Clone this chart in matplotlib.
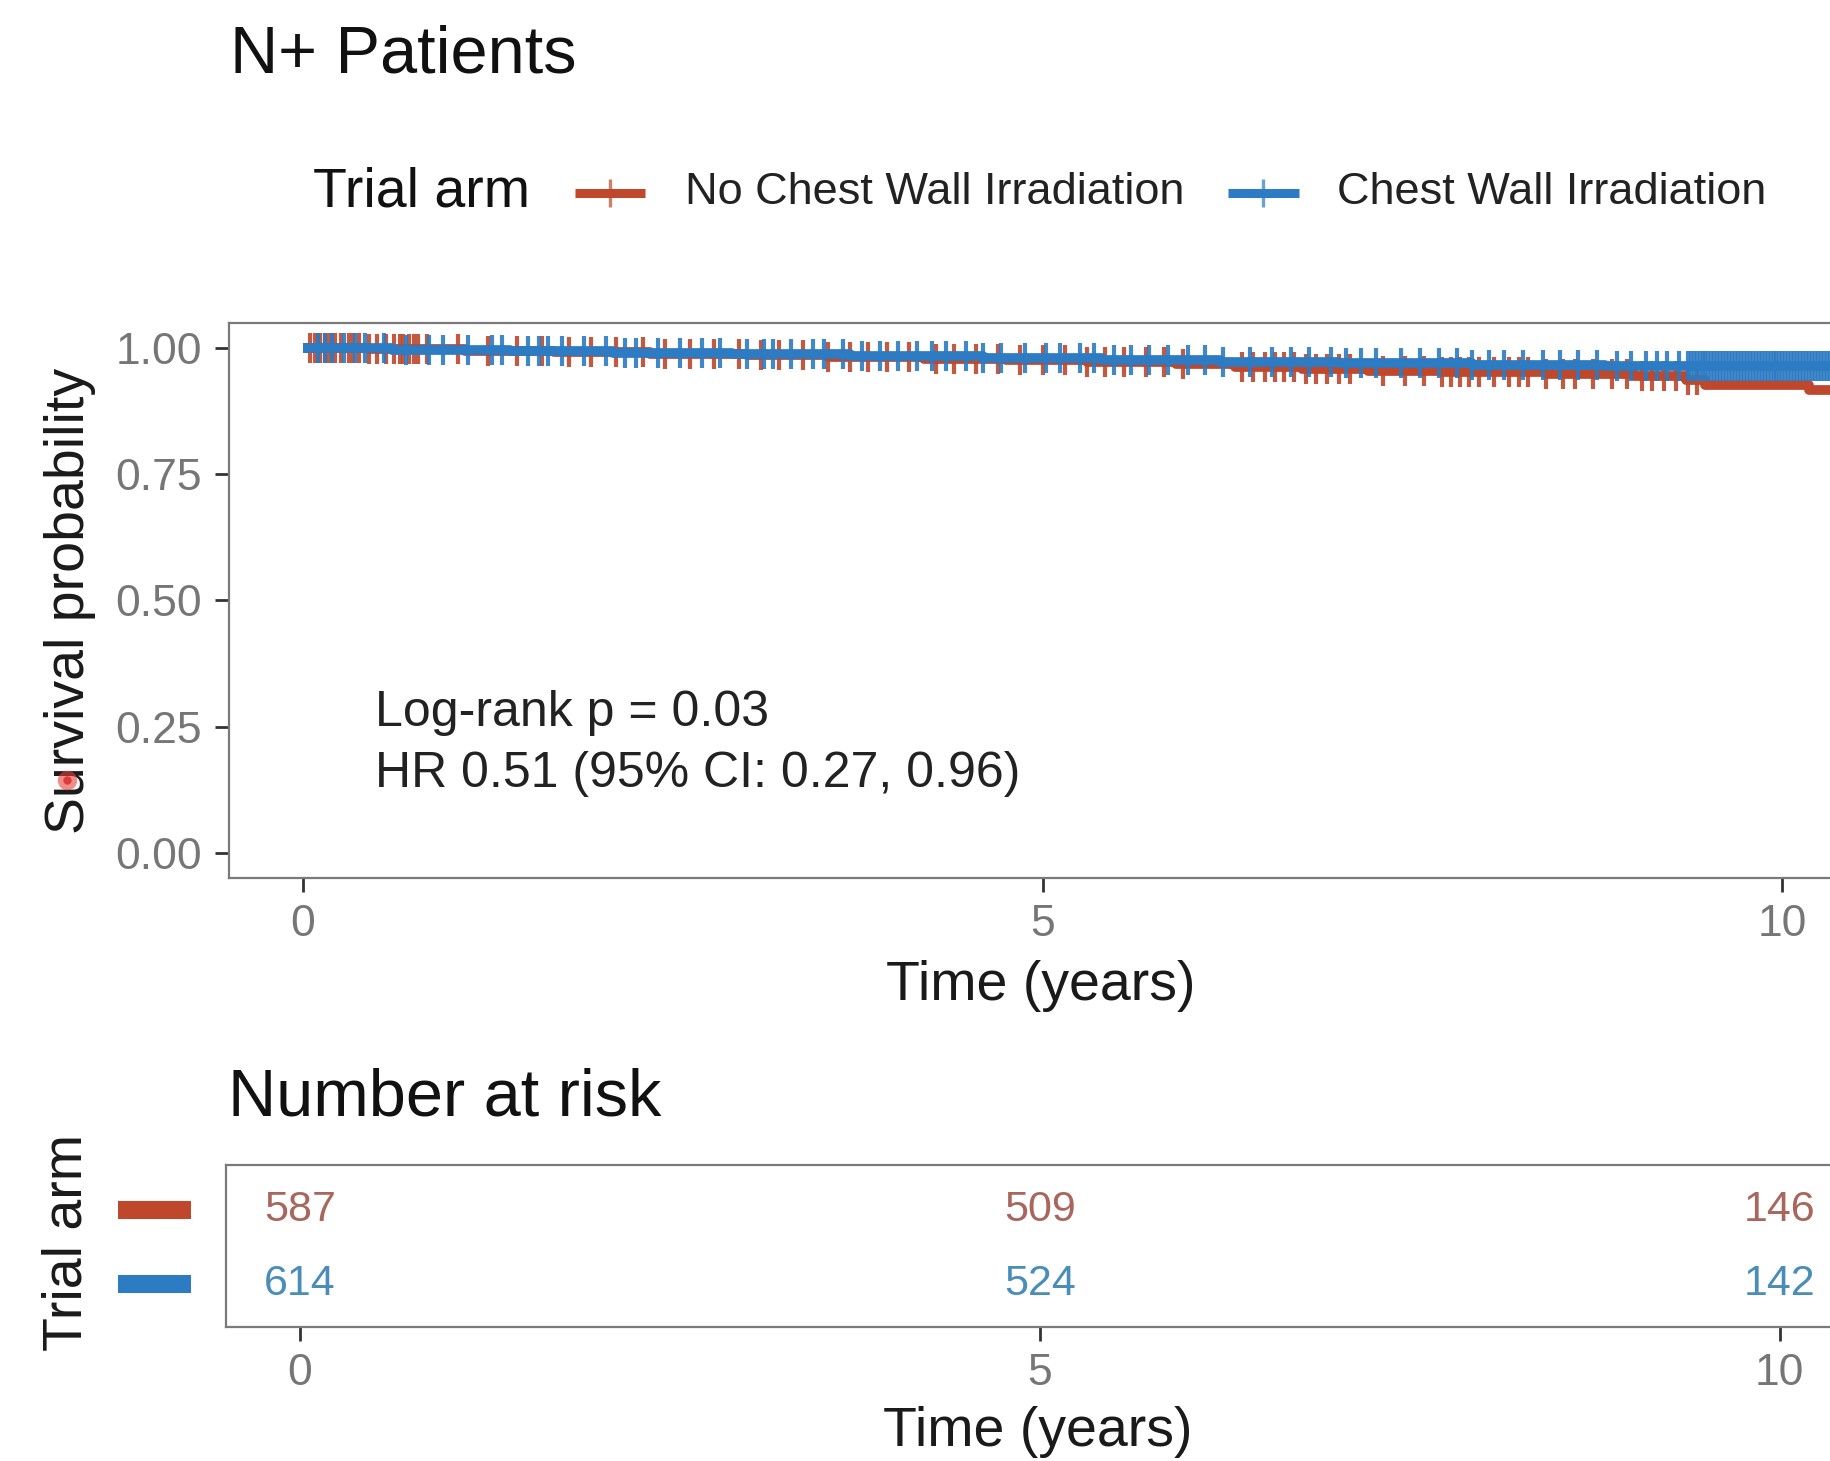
import matplotlib
matplotlib.use("Agg")
import matplotlib.pyplot as plt
from matplotlib.lines import Line2D
import numpy as np

plt.rcParams['font.family'] = ['Liberation Sans', 'DejaVu Sans']

# ---- data ----
arm_labels = ["No Chest Wall Irradiation", "Chest Wall Irradiation"]
arm_colors = ["#BE472C", "#2C7BC3"]
num_colors = ["#A8665C", "#4A8DB8"]

# Kaplan-Meier steps (time in years, survival)
red_t = [0, 0.45, 1.10, 1.70, 2.35, 3.00, 3.55, 4.20, 4.75, 5.30, 5.90, 6.30,
         6.75, 7.20, 7.70, 8.40, 9.00, 9.35, 9.48, 10.18, 10.47]
red_s = [1.000, 0.998, 0.995, 0.992, 0.989, 0.986, 0.983, 0.979, 0.976, 0.972,
         0.968, 0.963, 0.959, 0.955, 0.952, 0.949, 0.945, 0.936, 0.927, 0.918, 0.918]
blue_t = [0, 0.60, 1.40, 2.10, 2.90, 3.70, 4.60, 5.40, 6.20, 7.00, 7.90, 8.80, 10.47]
blue_s = [1.000, 0.997, 0.994, 0.991, 0.988, 0.985, 0.981, 0.977, 0.973, 0.970,
          0.967, 0.964, 0.964]

# censoring times
red_cens = [0.05, 0.08, 0.10, 0.12, 0.15, 0.17, 0.20, 0.22, 0.26, 0.31, 0.34, 0.38,
            0.45, 0.50, 0.56, 0.62, 0.66, 0.68, 0.72, 0.75, 0.78, 0.84, 1.05, 1.25,
            1.45, 1.62, 1.80, 1.95, 2.12, 2.30, 2.45, 2.62, 2.78, 2.95, 3.10, 3.22,
            3.38, 3.55, 3.70, 3.82, 3.95, 4.10, 4.28, 4.40, 4.55, 4.70, 4.85, 5.00,
            5.15, 5.30, 5.42, 5.55, 5.70, 5.82, 5.95, 6.35, 6.42, 6.50, 6.57, 6.63,
            6.70, 6.78, 6.85, 6.92, 7.00, 7.08, 7.30, 7.45, 7.58, 7.70, 7.76, 7.82,
            7.88, 7.95, 8.05, 8.15, 8.22, 8.28, 8.40, 8.52, 8.60, 8.72, 8.85, 8.95,
            9.05, 9.12, 9.20, 9.28, 9.36, 9.42]
blue_cens = [0.10, 0.15, 0.20, 0.28, 0.35, 0.42, 0.55, 0.70, 0.85, 0.95, 1.12, 1.28,
             1.35, 1.52, 1.60, 1.66, 1.75, 1.90, 2.05, 2.18, 2.25, 2.40, 2.55, 2.70,
             2.82, 3.00, 3.12, 3.18, 3.30, 3.45, 3.52, 3.65, 3.78, 3.90, 4.02, 4.15,
             4.25, 4.35, 4.48, 4.60, 4.72, 4.88, 5.02, 5.12, 5.25, 5.35, 5.48, 5.60,
             5.72, 5.85, 5.98, 6.10, 6.22, 6.40, 6.55, 6.68, 6.80, 6.95, 7.05, 7.15,
             7.25, 7.42, 7.55, 7.68, 7.80, 7.90, 8.02, 8.12, 8.25, 8.38, 8.50, 8.62,
             8.75, 8.88, 8.98, 9.08, 9.15, 9.22, 9.30,
             9.36, 9.38, 9.40, 9.42, 9.44, 9.46, 9.48, 9.50, 9.52, 9.54, 9.56, 9.58,
             9.60, 9.62, 9.64, 9.66, 9.68, 9.70, 9.72, 9.74, 9.76, 9.78, 9.80, 9.82,
             9.84, 9.86, 9.88, 9.90, 9.92, 9.94, 9.96, 9.98, 10.00, 10.02, 10.04,
             10.06, 10.08, 10.10, 10.12, 10.14, 10.16, 10.18, 10.20, 10.22, 10.24,
             10.26, 10.28, 10.30, 10.32, 10.34, 10.36, 10.38, 10.40, 10.42, 10.44]

risk_times = [0, 5, 10]
risk_red = [587, 509, 146]
risk_blue = [614, 524, 142]

x_ticks = [0, 5, 10]
y_ticks = [0.00, 0.25, 0.50, 0.75, 1.00]
y_tick_labels = ["0.00", "0.25", "0.50", "0.75", "1.00"]

tick_grey = "#767676"
spine_grey = "#7a7a7a"


def surv_at(times, surv, t):
    idx = np.searchsorted(times, t, side="right") - 1
    return np.asarray(surv)[idx]


fig = plt.figure(figsize=(18.3, 14.61), dpi=100)

# ---- main KM panel ----
ax = fig.add_axes([0.125, 0.399, 0.887, 0.380])
for t, s, cens, col in [(red_t, red_s, red_cens, arm_colors[0]),
                        (blue_t, blue_s, blue_cens, arm_colors[1])]:
    ax.step(t, s, where="post", color=col, lw=7, solid_capstyle="butt")
    ax.plot(cens, surv_at(t, s, cens), ls="none", marker="|", ms=22, mew=3,
            color=col, alpha=0.9)

ax.set_xlim(-0.5, 10.47)
ax.set_ylim(-0.05, 1.05)
ax.set_xticks(x_ticks)
ax.set_yticks(y_ticks)
ax.set_yticklabels(y_tick_labels)
ax.tick_params(axis="both", labelsize=32, colors="#333333", labelcolor=tick_grey,
               length=10, width=2, pad=9)
for sp in ax.spines.values():
    sp.set_color(spine_grey)
    sp.set_linewidth(1.6)

ax.set_xlabel("Time (years)", fontsize=40, color="#1a1a1a")
ax.xaxis.set_label_coords(0.5, -0.195)
ax.xaxis.label.set_va("center")
ax.set_ylabel("Survival probability", fontsize=40, color="#1a1a1a")
ax.yaxis.set_label_coords(-0.0975, 0.5)
ax.yaxis.label.set_va("center")

ax.text(0.49, 0.278, "Log-rank p = 0.03", fontsize=36, color="#222222", va="center")
ax.text(0.49, 0.156, "HR 0.51 (95% CI: 0.27, 0.96)", fontsize=36, color="#222222",
        va="center")

# ---- title and legend ----
fig.text(0.1257, 0.962, "N+ Patients", fontsize=48, color="#111111", va="center")
fig.text(0.171, 0.868, "Trial arm", fontsize=40, color="#111111", va="center")
leg_keys = [(0.3142, 0.3525, 0.3743), (0.6710, 0.7098, 0.7306)]
for (x0, x1, xt), lab, col in zip(leg_keys, arm_labels, arm_colors):
    fig.add_artist(Line2D([x0, x1], [0.868, 0.868], transform=fig.transFigure,
                          color=col, lw=6.5, solid_capstyle="butt"))
    fig.add_artist(Line2D([(x0 + x1) / 2], [0.868], transform=fig.transFigure,
                          marker="|", ms=20, mew=2.4, color=col, alpha=0.7))
    fig.text(xt, 0.868, lab, fontsize=32.5, color="#222222", va="center")

# ---- risk table ----
ax2 = fig.add_axes([0.1235, 0.0917, 0.887, 0.1109])
for x, r, b in zip(risk_times, risk_red, risk_blue):
    ax2.text(x, 2, str(r), ha="center", va="center", fontsize=31, color=num_colors[0])
    ax2.text(x, 1, str(b), ha="center", va="center", fontsize=31, color=num_colors[1])
ax2.set_xlim(-0.5, 10.47)
ax2.set_ylim(0.42, 2.6)
ax2.set_xticks(x_ticks)
ax2.set_yticks([])
ax2.tick_params(axis="x", labelsize=32, colors="#333333", labelcolor=tick_grey,
                length=10, width=2, pad=9)
for sp in ax2.spines.values():
    sp.set_color(spine_grey)
    sp.set_linewidth(1.6)
for yv, col in [(2, arm_colors[0]), (1, arm_colors[1])]:
    ax2.plot([-0.0665, -0.0216], [yv, yv], transform=ax2.get_yaxis_transform(),
             color=col, lw=13, solid_capstyle="butt", clip_on=False)

ax2.set_xlabel("Time (years)", fontsize=40, color="#1a1a1a")
ax2.xaxis.set_label_coords(0.5, -0.645)
ax2.xaxis.label.set_va("center")
ax2.set_ylabel("Trial arm", fontsize=40, color="#1a1a1a")
ax2.yaxis.set_label_coords(-0.0974, 0.519)
ax2.yaxis.label.set_va("center")

fig.text(0.1246, 0.2478, "Number at risk", fontsize=48, color="#111111", va="center")

# cursor dot on the y label
fig.add_artist(Line2D([0.0368], [0.466], transform=fig.transFigure, marker="o",
                      ms=14, color="#e8403a", alpha=0.6, mew=0))
fig.add_artist(Line2D([0.0368], [0.466], transform=fig.transFigure, marker="o",
                      ms=6, color="#d42a2a", alpha=0.8, mew=0))

fig.savefig("out.png", dpi=100, facecolor="white")
